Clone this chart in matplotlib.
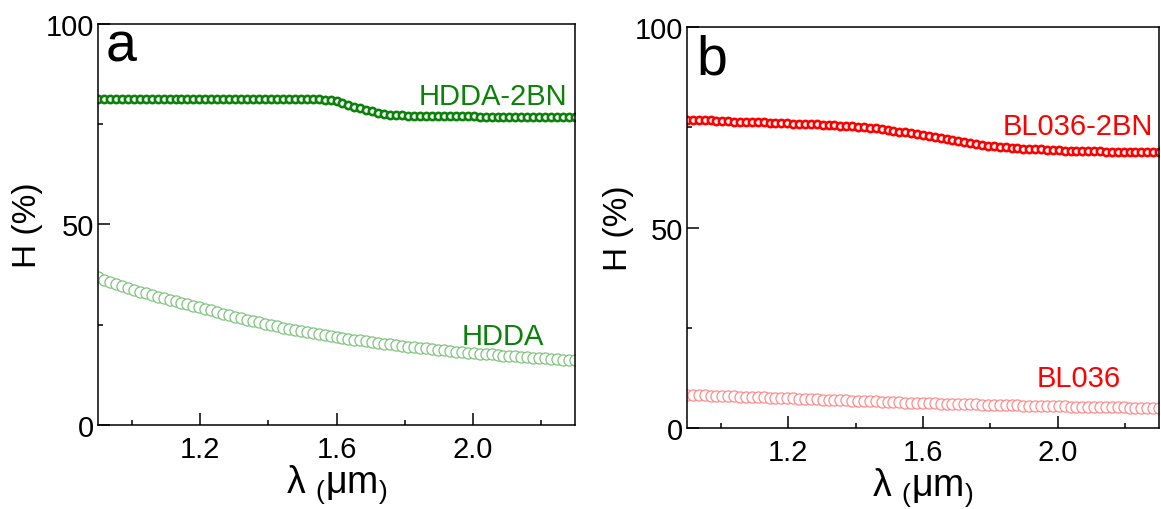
import matplotlib
matplotlib.use('Agg')
import matplotlib.pyplot as plt
import numpy as np

plt.rcParams['font.family'] = ['Liberation Sans', 'DejaVu Sans']
plt.rcParams['mathtext.fontset'] = 'custom'
plt.rcParams['mathtext.rm'] = 'Liberation Sans'

# wavelength grid (um), 81 samples from 0.9 to 2.3
wl = np.linspace(0.9, 2.3, 81)

# haze H (%) -- panel a
hdda_2bn = [81.4, 81.4, 81.4, 81.4, 81.4, 81.4, 81.4, 81.4, 81.4, 81.4,
            81.3, 81.3, 81.3, 81.3, 81.3, 81.3, 81.3, 81.3, 81.3, 81.3,
            81.3, 81.3, 81.3, 81.3, 81.3, 81.3, 81.3, 81.3, 81.3, 81.3,
            81.3, 81.2, 81.2, 81.2, 81.2, 81.2, 81.2, 81.2, 81.1, 81.0,
            80.7, 80.3, 79.9, 79.4, 79.0, 78.6, 78.2, 77.9, 77.6, 77.4,
            77.3, 77.2, 77.1, 77.0, 77.0, 77.0, 77.0, 77.0, 77.0, 77.0,
            77.0, 77.0, 77.0, 77.0, 76.9, 76.9, 76.9, 76.9, 76.9, 76.9,
            76.9, 76.9, 76.9, 76.9, 76.9, 76.9, 76.9, 76.9, 76.9, 76.9,
            76.9]
hdda = [36.8, 36.2, 35.7, 35.2, 34.7, 34.2, 33.7, 33.2, 32.8, 32.4,
        32.0, 31.6, 31.2, 30.8, 30.4, 30.1, 29.7, 29.4, 29.0, 28.6,
        28.2, 27.8, 27.4, 27.0, 26.6, 26.3, 25.9, 25.6, 25.2, 24.9,
        24.6, 24.3, 24.0, 23.7, 23.5, 23.2, 22.9, 22.7, 22.5, 22.2,
        22.0, 21.8, 21.5, 21.3, 21.1, 20.9, 20.7, 20.5, 20.3, 20.1,
        19.9, 19.7, 19.5, 19.4, 19.2, 19.1, 18.9, 18.7, 18.6, 18.5,
        18.3, 18.2, 18.0, 17.9, 17.8, 17.7, 17.6, 17.4, 17.3, 17.2,
        17.1, 17.0, 16.9, 16.8, 16.7, 16.6, 16.5, 16.4, 16.3, 16.3,
        16.2]

# haze H (%) -- panel b
bl036_2bn = [76.9, 76.85, 76.8, 76.7, 76.7, 76.6, 76.6, 76.5, 76.4, 76.4,
             76.3, 76.3, 76.2, 76.2, 76.1, 76.1, 76.0, 76.0, 75.9, 75.9,
             75.8, 75.7, 75.7, 75.6, 75.6, 75.5, 75.4, 75.3, 75.2, 75.1,
             75.0, 74.8, 74.7, 74.5, 74.3, 74.1, 73.9, 73.7, 73.5, 73.2,
             73.0, 72.7, 72.5, 72.2, 72.0, 71.7, 71.5, 71.3, 71.0, 70.8,
             70.6, 70.4, 70.3, 70.1, 70.0, 69.9, 69.8, 69.7, 69.6, 69.5,
             69.5, 69.4, 69.3, 69.3, 69.2, 69.2, 69.1, 69.1, 69.0, 69.0,
             69.0, 68.9, 68.9, 68.9, 68.9, 68.9, 68.8, 68.8, 68.8, 68.8,
             68.8]
bl036 = [8.30, 8.25, 8.20, 8.14, 8.09, 8.04, 7.98, 7.93, 7.88, 7.83,
         7.78, 7.72, 7.67, 7.62, 7.57, 7.51, 7.46, 7.41, 7.36, 7.30,
         7.25, 7.20, 7.15, 7.09, 7.04, 6.99, 6.94, 6.88, 6.83, 6.78,
         6.73, 6.67, 6.62, 6.57, 6.52, 6.46, 6.41, 6.36, 6.31, 6.25,
         6.20, 6.17, 6.13, 6.10, 6.06, 6.03, 5.99, 5.96, 5.92, 5.89,
         5.85, 5.82, 5.78, 5.75, 5.71, 5.68, 5.64, 5.61, 5.57, 5.54,
         5.50, 5.47, 5.43, 5.40, 5.38, 5.35, 5.33, 5.30, 5.28, 5.26,
         5.23, 5.21, 5.18, 5.16, 5.14, 5.11, 5.09, 5.06, 5.04, 5.02,
         5.00]

GREEN = '#0a820a'
GREEN_LT = '#7fc47f'
RED = '#ff0000'
RED_LT = '#ff8c8c'

fig = plt.figure(figsize=(11.61, 5.10), dpi=100)
ax_a = fig.add_axes([0.0844, 0.1647, 0.4109, 0.7863])
ax_b = fig.add_axes([0.5917, 0.1588, 0.4066, 0.7863])


def style_axis(ax, labelpad):
    ax.set_xlim(0.9, 2.3)
    ax.set_ylim(0, 100)
    ax.set_xticks([1.2, 1.6, 2.0])
    ax.set_xticklabels(['1.2', '1.6', '2.0'])
    ax.set_xticks([1.0, 1.4, 1.8, 2.2], minor=True)
    ax.set_yticks([0, 50, 100])
    ax.set_yticks([25, 75], minor=True)
    ax.tick_params(which='both', direction='in', width=1.1, labelsize=21,
                   top=False, right=False)
    ax.tick_params(axis='y', which='major', length=8.5, pad=3)
    ax.tick_params(axis='x', which='major', length=8.5, pad=7)
    ax.tick_params(which='minor', length=3.5)
    for s in ax.spines.values():
        s.set_linewidth(1.1)
    ax.set_ylabel('H (%)', fontsize=24, labelpad=labelpad)
    ax.set_xlabel('λ ${}_{(}$μm${}_{)}$', fontsize=27, labelpad=0)


# panel a
ax_a.plot(wl, hdda_2bn, 'o', ms=5.2, mfc='white', mec=GREEN, mew=1.9)
ax_a.plot(wl, hdda, 'o', ms=8, mfc='white', mec=GREEN_LT, mew=0.9)
style_axis(ax_a, 2)
ax_a.text(0.983, 80.0, 'HDDA-2BN', color=GREEN, fontsize=21, ha='right',
          va='baseline', transform=ax_a.get_yaxis_transform())
ax_a.text(0.935, 20.2, 'HDDA', color=GREEN, fontsize=21, ha='right',
          va='baseline', transform=ax_a.get_yaxis_transform())
ax_a.text(0.017, 0.908, 'a', fontsize=40, ha='left', va='baseline',
          transform=ax_a.transAxes)

# panel b
ax_b.plot(wl, bl036_2bn, 'o', ms=5.2, mfc='white', mec=RED, mew=1.9)
ax_b.plot(wl, bl036, 'o', ms=8, mfc='white', mec=RED_LT, mew=0.9)
style_axis(ax_b, 0)
ax_b.text(0.987, 73.3, 'BL036-2BN', color=RED, fontsize=21, ha='right',
          va='baseline', transform=ax_b.get_yaxis_transform())
ax_b.text(0.919, 10.6, 'BL036', color=RED, fontsize=21, ha='right',
          va='baseline', transform=ax_b.get_yaxis_transform())
ax_b.text(0.021, 0.883, 'b', fontsize=40, ha='left', va='baseline',
          transform=ax_b.transAxes)

plt.savefig('out.png', dpi=100)
plt.close()
